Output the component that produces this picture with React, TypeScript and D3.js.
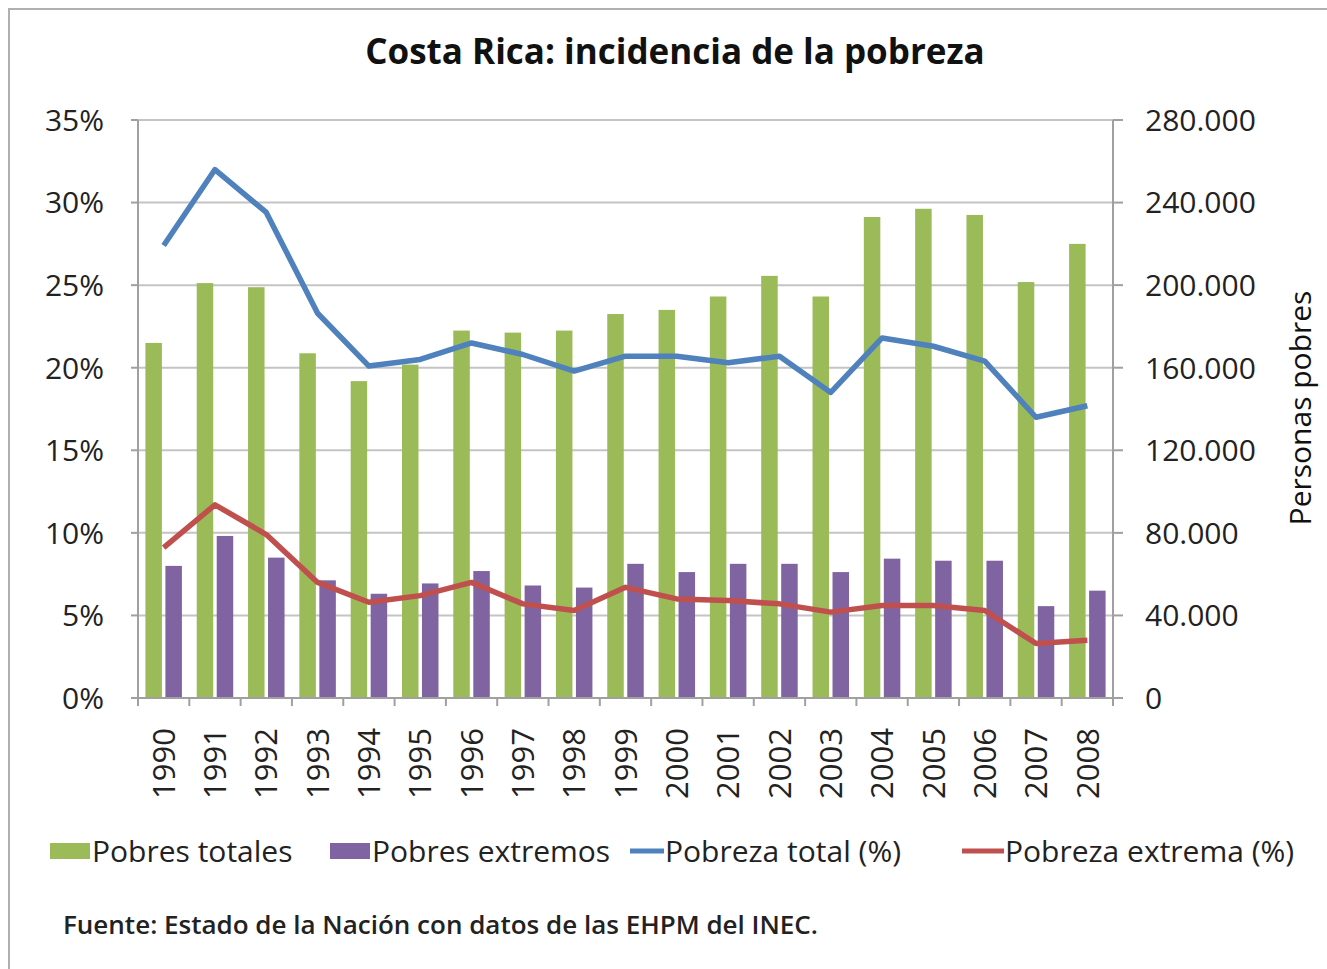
import React from "react";
import * as d3 from "d3";

const years = ["1990","1991","1992","1993","1994","1995","1996","1997","1998","1999","2000","2001","2002","2003","2004","2005","2006","2007","2008"];
const pobresTotales = [172000,201000,199000,167000,153500,161500,178000,177000,178000,186000,188000,194500,204500,194500,233000,237000,234000,201500,220000];
const pobresExtremos = [64000,78500,68000,57000,50500,55500,61500,54500,53500,65000,61000,65000,65000,61000,67500,66500,66500,44500,52000];
const pobrezaTotal = [27.4,32.0,29.4,23.3,20.1,20.5,21.5,20.8,19.8,20.7,20.7,20.3,20.7,18.5,21.8,21.3,20.4,17.0,17.7];
const pobrezaExtrema = [9.1,11.7,9.9,7.0,5.8,6.2,7.0,5.7,5.3,6.7,6.0,5.9,5.7,5.2,5.6,5.6,5.3,3.3,3.5];
const leftTicks = [0,5,10,15,20,25,30,35];
const rightTicks = [0,40000,80000,120000,160000,200000,240000,280000];

const FONT = "'Open Sans', sans-serif";
const GREEN = "#9BBB59";
const PURPLE = "#8064A2";
const BLUE = "#4F81BD";
const RED = "#C0504D";

export default function App() {
  const x0 = 138, x1 = 1113, yTop = 120, yBot = 698;
  const xBand = d3.scaleBand<string>().domain(years).range([x0, x1]).padding(0);
  const yLeft = d3.scaleLinear().domain([0, 35]).range([yBot, yTop]);
  const yRight = d3.scaleLinear().domain([0, 280000]).range([yBot, yTop]);
  const bw = 16.5, gap = 3.5;
  const cx = (y: string) => (xBand(y) as number) + xBand.bandwidth() / 2;
  const lineGen = (vals: number[]) =>
    d3.line<number>().x((_, i) => cx(years[i])).y((d) => yLeft(d))(vals) as string;
  const fmt = (v: number) => (v === 0 ? "0" : d3.format(",")(v).replace(/,/g, "."));

  return (
    <svg width={1327} height={969} style={{ position: "absolute", left: 0, top: 0, background: "#fff" }} fontFamily={FONT}>
      <rect x={0} y={0} width={1327} height={969} fill="#fff" />
      <rect x={9} y={9} width={1400} height={1000} fill="none" stroke="#b0b0b0" strokeWidth={2} />
      <text x={675} y={64} textAnchor="middle" fontSize={35} fontWeight={700} fill="#111">
        Costa Rica: incidencia de la pobreza
      </text>

      {/* gridlines */}
      {leftTicks.map((t) => (
        <line key={"g" + t} x1={x0} x2={x1} y1={yLeft(t)} y2={yLeft(t)} stroke="#c4c4c4" strokeWidth={2} />
      ))}

      {/* bars */}
      {years.map((y, i) => (
        <g key={"b" + y}>
          <rect x={cx(y) - gap / 2 - bw} y={yRight(pobresTotales[i])} width={bw} height={yBot - yRight(pobresTotales[i])} fill={GREEN} />
          <rect x={cx(y) + gap / 2} y={yRight(pobresExtremos[i])} width={bw} height={yBot - yRight(pobresExtremos[i])} fill={PURPLE} />
        </g>
      ))}

      {/* axes */}
      <line x1={x0} x2={x0} y1={yTop} y2={yBot} stroke="#a0a0a0" strokeWidth={2} />
      <line x1={x1} x2={x1} y1={yTop} y2={yBot} stroke="#a0a0a0" strokeWidth={2} />
      <line x1={x0} x2={x1} y1={yBot} y2={yBot} stroke="#a0a0a0" strokeWidth={2} />
      {leftTicks.map((t) => (
        <g key={"l" + t}>
          <line x1={x0 - 7} x2={x0} y1={yLeft(t)} y2={yLeft(t)} stroke="#a0a0a0" strokeWidth={2} />
          <text x={104} y={yLeft(t)} dy="0.36em" textAnchor="end" fontSize={30} fill="#222">{t + "%"}</text>
        </g>
      ))}
      {rightTicks.map((t) => (
        <g key={"r" + t}>
          <line x1={x1} x2={x1 + 10} y1={yRight(t)} y2={yRight(t)} stroke="#a0a0a0" strokeWidth={2} />
          <text x={1145} y={yRight(t)} dy="0.36em" textAnchor="start" fontSize={30} fill="#222">{fmt(t)}</text>
        </g>
      ))}
      {years.concat(["end"]).map((y, i) => {
        const xx = x0 + i * xBand.bandwidth();
        return <line key={"t" + i} x1={xx} x2={xx} y1={yBot} y2={yBot + 8} stroke="#a0a0a0" strokeWidth={2} />;
      })}
      {years.map((y) => (
        <text key={"x" + y} transform={`translate(${cx(y)},728) rotate(-90)`} dy="0.36em" textAnchor="end" fontSize={31} fill="#222">{y}</text>
      ))}
      <text transform="translate(1300,408) rotate(-90)" dy="0.36em" textAnchor="middle" fontSize={30} fill="#111">Personas pobres</text>

      {/* lines */}
      <path d={lineGen(pobrezaTotal)} fill="none" stroke={BLUE} strokeWidth={5.5} strokeLinejoin="round" />
      <path d={lineGen(pobrezaExtrema)} fill="none" stroke={RED} strokeWidth={5.5} strokeLinejoin="round" />

      {/* legend */}
      <g fontSize={30} fill="#222">
        <rect x={50} y={843} width={40} height={16} fill={GREEN} />
        <text x={92} y={851} dy="0.36em">Pobres totales</text>
        <rect x={330} y={843} width={40} height={16} fill={PURPLE} />
        <text x={372} y={851} dy="0.36em">Pobres extremos</text>
        <line x1={630} x2={664} y1={851} y2={851} stroke={BLUE} strokeWidth={5} />
        <text x={665} y={851} dy="0.36em">Pobreza total (%)</text>
        <line x1={962} x2={1004} y1={851} y2={851} stroke={RED} strokeWidth={5} />
        <text x={1005} y={851} dy="0.36em">Pobreza extrema (%)</text>
      </g>
      <text x={63} y={925} dy="0.36em" fontSize={26} fontWeight={600} fill="#222">Fuente: Estado de la Nación con datos de las EHPM del INEC.</text>
    </svg>
  );
}
